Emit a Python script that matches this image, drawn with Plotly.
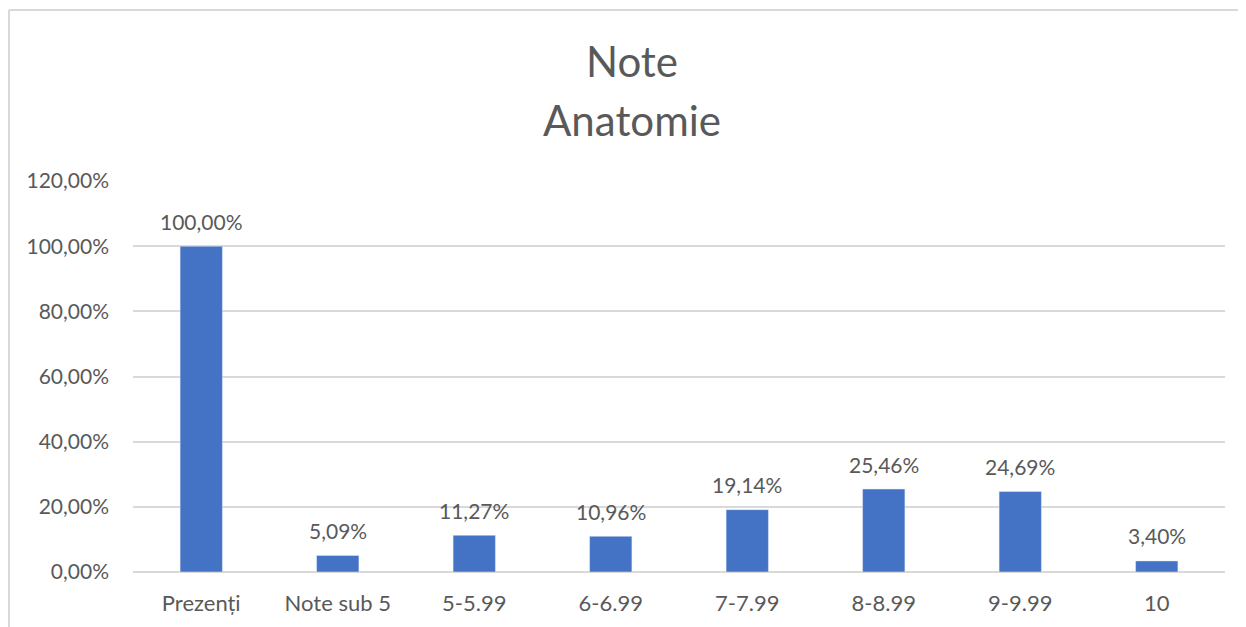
import plotly.graph_objects as go

categories = ["Prezenți", "Note sub 5", "5-5.99", "6-6.99", "7-7.99", "8-8.99", "9-9.99", "10"]
values = [100.00, 5.09, 11.27, 10.96, 19.14, 25.46, 24.69, 3.40]
tick_vals = [0, 20, 40, 60, 80, 100, 120]
tick_text = ["0,00%", "20,00%", "40,00%", "60,00%", "80,00%", "100,00%", "120,00%"]
title_lines = ["Note", "Anatomie"]
labels = [f"{v:.2f}%".replace(".", ",") for v in values]

FONT = "Lato, Calibri, 'Liberation Sans', sans-serif"
GREY = "#595959"

# page is rendered with an 8px body margin; compensate
OFF = 8
W, H = 1246, 627
ml, mr, mt, mb = 133 - OFF, W - (1225 - OFF), 181 - OFF, 627 - (572 - OFF)
pw, ph = W - ml - mr, H - mt - mb

fig = go.Figure(go.Bar(
    x=categories, y=values,
    marker=dict(color="#4472C4"), hoverinfo="skip",
))

annotations = []
for i, (v, t) in enumerate(zip(values, labels)):
    annotations.append(dict(x=i, y=v, xref="x", yref="y", text=t, showarrow=False,
                            yanchor="middle", yshift=25,
                            font=dict(size=21, color=GREY, family=FONT)))
for line, ypix in zip(title_lines, [61, 120]):
    annotations.append(dict(x=(632 - OFF - ml) / pw, xref="paper",
                            y=(H - mb - (ypix - OFF)) / ph, yref="paper",
                            text=line, showarrow=False, xanchor="center", yanchor="middle",
                            font=dict(size=42, color=GREY, family=FONT)))

fig.update_layout(
    width=W, height=H,
    margin=dict(l=ml, r=mr, t=mt, b=mb, autoexpand=False),
    paper_bgcolor="white", plot_bgcolor="white",
    bargap=0.69,
    showlegend=False,
    font=dict(family=FONT, color=GREY),
    annotations=annotations,
    xaxis=dict(type="category", categoryorder="array", categoryarray=categories,
               range=[-0.5, len(categories) - 0.5],
               showgrid=False, showline=False, ticks="", tickfont=dict(size=22, color=GREY),
               ticklabelstandoff=16),
    yaxis=dict(range=[0, 120], tickvals=tick_vals, ticktext=tick_text, showgrid=True,
               gridcolor="#d9d9d9", gridwidth=1.5, zeroline=True, zerolinecolor="#d9d9d9",
               zerolinewidth=1.5, showline=False, ticks="", tickfont=dict(size=21, color=GREY),
               ticklabelstandoff=23),
    shapes=[
        dict(type="line", xref="paper", yref="paper",
             x0=(1 - ml) / pw, x1=(1 - ml) / pw, y0=(H - mb - 2) / ph, y1=(H - mb - 700) / ph,
             line=dict(color="#d9d9d9", width=2)),
        dict(type="line", xref="paper", yref="paper",
             x0=(1 - ml) / pw, x1=(1300 - ml) / pw, y0=(H - mb - 2) / ph, y1=(H - mb - 2) / ph,
             line=dict(color="#d9d9d9", width=2)),
    ],
)

fig.write_html("out.html")
